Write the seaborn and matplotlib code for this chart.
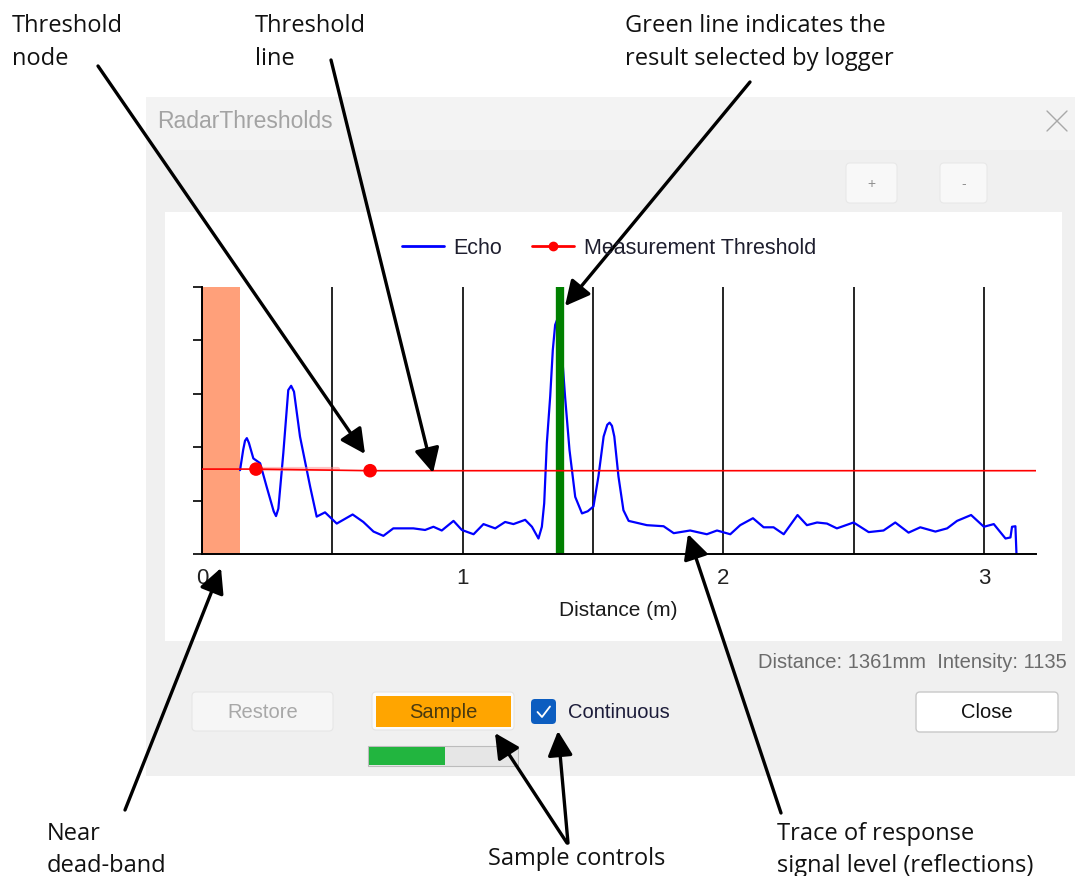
import matplotlib
matplotlib.use("Agg")
import matplotlib.pyplot as plt
from matplotlib.patches import Rectangle, FancyBboxPatch
from matplotlib.lines import Line2D
import seaborn as sns
import pandas as pd

# ---------------- data ----------------
echo_dist = [0.146, 0.158, 0.165, 0.172, 0.180, 0.197, 0.223, 0.248, 0.275, 0.284, 0.293,
             0.312, 0.331, 0.342, 0.353, 0.376,
             0.415, 0.44, 0.472, 0.517, 0.578, 0.619, 0.658, 0.696, 0.734, 0.811, 0.856,
             0.888, 0.92, 0.965, 0.997, 1.042, 1.08, 1.125, 1.163, 1.195, 1.24, 1.266,
             1.291, 1.304, 1.313, 1.323, 1.336, 1.346, 1.355, 1.362, 1.370, 1.381, 1.393,
             1.41, 1.432, 1.458, 1.48, 1.502, 1.521, 1.541, 1.555, 1.564, 1.573, 1.582,
             1.598, 1.617,
             1.637, 1.707, 1.771, 1.81, 1.873, 1.937, 1.976, 2.027, 2.065, 2.114, 2.155,
             2.193, 2.232, 2.285, 2.321, 2.36, 2.398, 2.436, 2.5, 2.558, 2.615, 2.66,
             2.711, 2.756, 2.814, 2.859, 2.897, 2.951, 3.0, 3.038, 3.083, 3.102, 3.108,
             3.121, 3.125]
echo_level = [1.57, 1.95, 2.12, 2.17, 2.08, 1.79, 1.70, 1.26, 0.80, 0.71, 0.85,
              1.89, 3.07, 3.15, 3.04, 2.20,
              1.26, 0.70, 0.78, 0.57, 0.74, 0.60, 0.42, 0.34, 0.48, 0.48, 0.45,
              0.51, 0.44, 0.62, 0.45, 0.37, 0.56, 0.48, 0.60, 0.56, 0.64, 0.51,
              0.29, 0.51, 0.95, 2.07, 2.95, 3.82, 4.29, 4.38, 4.26, 3.76, 2.95,
              1.95, 1.07, 0.76, 0.80, 0.89, 1.45, 2.20, 2.42, 2.46, 2.40, 2.20,
              1.45, 0.82,
              0.62, 0.54, 0.52, 0.39, 0.44, 0.37, 0.44, 0.37, 0.54, 0.67, 0.50,
              0.50, 0.37, 0.73, 0.54, 0.59, 0.57, 0.48, 0.59, 0.41, 0.44, 0.59,
              0.40, 0.50, 0.42, 0.48, 0.62, 0.73, 0.51, 0.56, 0.29, 0.31, 0.51,
              0.52, 0.01]
threshold_dist = [0.0, 0.207, 0.645, 3.2]
threshold_level = [1.59, 1.59, 1.56, 1.56]
node_dist = [0.207, 0.645]
node_level = [1.59, 1.56]
ghost_dist = [0.207, 0.52]
ghost_level = [1.59, 1.59]
deadband_start, deadband_end = 0.0, 0.146
selected_dist = 1.375
x_ticks = [0, 1, 2, 3]
x_tick_labels = ["0", "1", "2", "3"]
grid_x = [0.5, 1.5, 2.5]
y_ticks = [0, 1, 2, 3, 4, 5]
reading_mm = 1361
reading_intensity = 1135
progress_frac = 0.5
legend_labels = ["Echo", "Measurement Threshold"]

# ---------------- style ----------------
sns.set_style("white")
plt.rcParams["font.family"] = ["Liberation Sans", "DejaVu Sans"]
ANN = "Open Sans"

W, H = 1075, 876
fig = plt.figure(figsize=(W / 100, H / 100), dpi=100)
fig.patch.set_facecolor("white")


def px_axes(z):
    a = fig.add_axes([0, 0, 1, 1], zorder=z)
    a.set_xlim(0, W)
    a.set_ylim(H, 0)
    a.axis("off")
    a.patch.set_alpha(0)
    return a


bg = px_axes(0)

# dialog window
bg.add_patch(Rectangle((146, 97), W - 146, 776 - 97, fc="#F0F0F0", ec="none"))
bg.add_patch(Rectangle((146, 97), W - 146, 53, fc="#F3F3F3", ec="none"))
bg.text(157, 121, "RadarThresholds", fontsize=16.5, color="#A3A3A3", va="center", ha="left")
bg.plot([1047, 1067], [111, 131], color="#A8A8A8", lw=1.0)
bg.plot([1047, 1067], [131, 111], color="#A8A8A8", lw=1.0)

# + / - buttons
for (x0, w, s) in [(846, 51, "+"), (940, 47, "-")]:
    bg.add_patch(FancyBboxPatch((x0, 163), w, 40, boxstyle="round,pad=0,rounding_size=4",
                                fc="#F8F8F8", ec="#E8E8E8", lw=0.8))
    bg.text(x0 + w / 2, 184, s, fontsize=10, color="#909090", ha="center", va="center")

# white chart panel
bg.add_patch(Rectangle((165, 212), 1062 - 165, 641 - 212, fc="white", ec="none"))

# status text
bg.text(1067, 662, f"Distance: {reading_mm}mm  Intensity: {reading_intensity}",
        fontsize=14.5, color="#6B6B6B", ha="right", va="center")

# Restore button
bg.add_patch(FancyBboxPatch((192, 692), 141, 39, boxstyle="round,pad=0,rounding_size=4",
                            fc="#F6F6F6", ec="#E6E6E6", lw=0.8))
bg.text(262.5, 712, "Restore", fontsize=14.5, color="#A8A8A8", ha="center", va="center")

# Sample button
bg.add_patch(FancyBboxPatch((372, 692), 142, 38, boxstyle="round,pad=0,rounding_size=4",
                            fc="#FBFBFB", ec="#E4E4E4", lw=0.8))
bg.add_patch(Rectangle((376, 696), 135, 31, fc="#FFA500", ec="none"))
bg.text(443, 712, "Sample", fontsize=14.5, color="#4A3A10", ha="center", va="center")

# Continuous checkbox
bg.add_patch(FancyBboxPatch((531, 699), 25, 25, boxstyle="round,pad=0,rounding_size=4",
                            fc="#0C5DC0", ec="none"))
bg.plot([537.5, 542, 550], [712, 717, 706.5], color="white", lw=1.3)
bg.text(568, 712, "Continuous", fontsize=14.5, color="#1C1C3A", ha="left", va="center")

# Close button
bg.add_patch(FancyBboxPatch((916, 692), 142, 40, boxstyle="round,pad=0,rounding_size=4",
                            fc="white", ec="#C8C8C8", lw=1.0))
bg.text(987, 712, "Close", fontsize=14.5, color="#111111", ha="center", va="center")

# progress bar
bg.add_patch(Rectangle((368, 746), 150, 20, fc="#E6E6E6", ec="#BCBCBC", lw=0.8))
bg.add_patch(Rectangle((369, 747), 150 * progress_frac + 1, 18, fc="#22B53F", ec="none"))

# ---------------- chart ----------------
ax = fig.add_axes([202 / W, 1 - 554 / H, 834 / W, 267 / H], zorder=1)
ax.patch.set_alpha(0)

ax.axvspan(deadband_start, deadband_end, color="#FFA07A", lw=0, zorder=0.4)

df_echo = pd.DataFrame({"Distance (m)": echo_dist, "Level": echo_level})
sns.lineplot(data=df_echo, x="Distance (m)", y="Level", ax=ax, color="#0000FF",
             lw=1.6, estimator=None, sort=False, zorder=2)
ax.axvline(selected_dist, color="#008000", lw=6, zorder=2.5)
sns.lineplot(x=ghost_dist, y=ghost_level, ax=ax, color="#FF8A8A", lw=3, alpha=0.5,
             estimator=None, sort=False, zorder=3)
sns.lineplot(x=threshold_dist, y=threshold_level, ax=ax, color="#FF0000", lw=1.2,
             estimator=None, sort=False, zorder=4)
sns.scatterplot(x=node_dist, y=node_level, ax=ax, color="#FF0000", s=95,
                edgecolor="none", zorder=5)

ax.set_xlim(0, 3.2)
ax.set_ylim(0, 5)
ax.set_xticks(x_ticks)
ax.set_xticklabels(x_tick_labels)
ax.set_xticks(grid_x, minor=True)
ax.set_yticks(y_ticks)
ax.grid(False)
ax.grid(True, which="both", axis="x", color="black", lw=1.2)
ax.grid(False, axis="y")
ax.set_axisbelow(True)
for s in ["top", "right"]:
    ax.spines[s].set_visible(False)
for s in ["left", "bottom"]:
    ax.spines[s].set_color("black")
    ax.spines[s].set_linewidth(1.4)
ax.tick_params(axis="y", which="major", left=True, direction="out", length=6.5, width=1.2,
               color="black", labelleft=False)
ax.tick_params(axis="x", which="both", bottom=True, length=0, pad=10, labelsize=16,
               labelcolor="#222222")
ax.set_ylabel("")
ax.set_xlabel("Distance (m)", fontsize=15, color="#1A1A1A")
ax.xaxis.set_label_coords((618 - 202) / 834, -(611 - 554) / 267)
ax.xaxis.label.set_va("center")

handles = [Line2D([], [], color="#0000FF", lw=2.0),
           Line2D([], [], color="#FF0000", lw=2.0, marker="o", ms=6)]
fig.legend(handles, legend_labels, loc="center", bbox_to_anchor=(609 / W, 1 - 248 / H),
           bbox_transform=fig.transFigure, ncol=2, frameon=False, fontsize=15.5,
           handlelength=1.95, handletextpad=0.45, columnspacing=1.4, labelcolor="#1E1E2E")

# ---------------- annotations ----------------
fg = px_axes(3)
ann_lines = [
    ("Threshold", 12, 32), ("node", 12, 65),
    ("Threshold", 255, 32), ("line", 255, 65),
    ("Green line indicates the", 625, 32), ("result selected by logger", 625, 65),
    ("Near", 47, 840), ("dead-band", 47, 872),
    ("Sample controls", 488, 865),
    ("Trace of response", 777, 840), ("signal level (reflections)", 777, 872),
]
for t, x, y in ann_lines:
    fg.text(x, y, t, fontsize=17, family=ANN, color="#111111", ha="left", va="baseline")

arrows = [((98, 66), (365, 454)), ((331, 60), (433, 473)), ((750, 82), (565, 306)),
          ((125, 810), (221, 568)), ((567, 843), (495, 733)), ((568, 843), (558, 731)),
          ((781, 813), (688, 534))]
for start, tip in arrows:
    fg.annotate("", xy=tip, xytext=start,
                arrowprops=dict(arrowstyle="-|>,head_length=0.75,head_width=0.38",
                                lw=2.4, color="black", shrinkA=0, shrinkB=0,
                                mutation_scale=20))

fig.savefig("out.png", dpi=100, facecolor="white")
